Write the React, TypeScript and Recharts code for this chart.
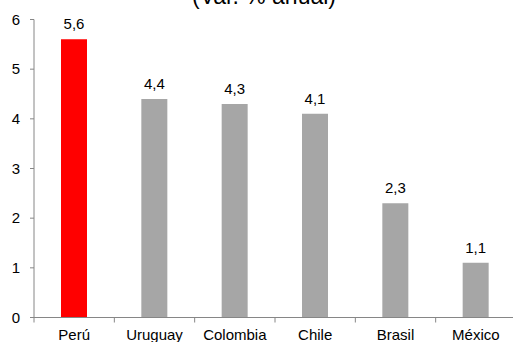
import React from 'react';
import { BarChart, Bar, XAxis, YAxis, LabelList, Cell } from 'recharts';

const categories = ['Perú', 'Uruguay', 'Colombia', 'Chile', 'Brasil', 'México'];
const growth = [5.6, 4.4, 4.3, 4.1, 2.3, 1.1];
const yTicks = [0, 1, 2, 3, 4, 5, 6];
const title = '(Var. % anual)';

const data = categories.map((name, i) => ({ name, value: growth[i] }));

const CHART_W = 516;
const AXIS_W = 34;
const band = (CHART_W - AXIS_W) / categories.length;
const font = '"Liberation Sans", Arial, sans-serif';
const axisGray = '#868686';

const fmt = (v: any) => Number(v).toFixed(1).replace('.', ',');

// category label centred in its band, tick mark on the band's left edge
const CategoryTick = (props: any) => {
  const { x, y, payload } = props;
  return (
    <g>
      <line x1={x - band / 2} x2={x - band / 2} y1={y} y2={y + 5} stroke={axisGray} />
      <text x={x} y={y + 12} dy="0.71em" textAnchor="middle" fontSize={15} fill="#000" fontFamily={font}>
        {payload.value}
      </text>
    </g>
  );
};

const App: React.FC = () => {
  return (
    <div style={{ position: 'fixed', left: 0, top: 0, width: 513, height: 342, overflow: 'hidden', background: '#fff' }}>
      <div
        style={{
          position: 'absolute',
          left: 0,
          top: -15,
          width: 528,
          textAlign: 'center',
          fontFamily: font,
          fontSize: 23,
          lineHeight: '23px',
          color: '#000',
          whiteSpace: 'nowrap',
        }}
      >
        {title}
      </div>
      <BarChart
        width={CHART_W}
        height={360}
        data={data}
        margin={{ top: 19.5, right: 0, left: 0, bottom: 0 }}
      >
        <XAxis
          dataKey="name"
          height={42.5}
          tickLine={false}
          tickSize={0}
          tickMargin={0}
          interval={0}
          axisLine={{ stroke: axisGray }}
          tick={<CategoryTick />}
        />
        <YAxis
          width={AXIS_W}
          domain={[0, 6]}
          ticks={yTicks}
          interval={0}
          tickSize={4}
          tickMargin={10}
          axisLine={{ stroke: axisGray }}
          tickLine={{ stroke: axisGray }}
          tick={{ fontSize: 15, fill: '#000', fontFamily: font }}
        />
        <Bar dataKey="value" barSize={26} isAnimationActive={false}>
          {data.map((d, i) => (
            <Cell key={d.name} fill={i === 0 ? '#FF0000' : '#A6A6A6'} />
          ))}
          <LabelList
            dataKey="value"
            position="top"
            offset={10}
            formatter={fmt}
            style={{ fontSize: 15, fill: '#000', fontFamily: font }}
          />
        </Bar>
      </BarChart>
    </div>
  );
};

export default App;
